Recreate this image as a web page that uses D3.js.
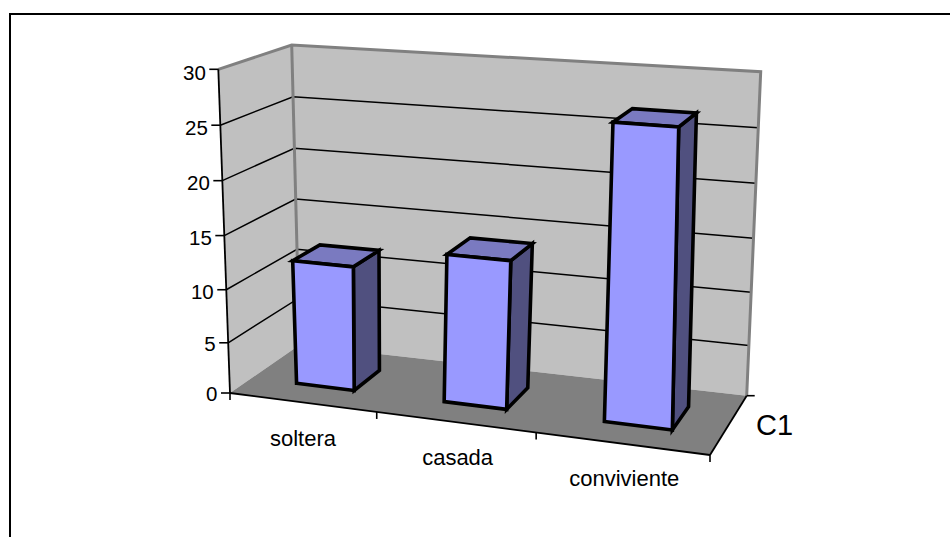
<!DOCTYPE html>
<html>
<head>
<meta charset="utf-8">
<script src="https://cdn.jsdelivr.net/npm/d3@7"></script>
<style>
html,body{margin:0;padding:0;background:#fff}
svg{display:block}
text{font-family:"Liberation Sans",Arial,sans-serif;fill:#000}
</style>
</head>
<body>
<svg id="chart" width="950" height="537"></svg>
<script>
const categories = ["soltera", "casada", "conviviente"];
const seriesName = "C1";
const values = [12, 14, 27];
const valueTicks = [0, 5, 10, 15, 20, 25, 30];

// Screen corners of the 3D box: floor and ceiling planes
const floorCorners = {fl:[230,393], fr:[710,455], br:[746.7,395.7], bl:[299.5,345]};
const ceilCorners  = {fl:[218.3,69.3], fr:[719,105], br:[760.7,71.7], bl:[291.7,45]};
const ceilBow = 28;

// Homography taking the unit square (u right, z into the page) onto a quad
function planeProjection(c){
  const [x0,y0]=c.fl,[x1,y1]=c.fr,[x2,y2]=c.br,[x3,y3]=c.bl;
  const dx1=x1-x2,dx2=x3-x2,sx=x0-x1+x2-x3;
  const dy1=y1-y2,dy2=y3-y2,sy=y0-y1+y2-y3;
  const den=dx1*dy2-dx2*dy1;
  const g=(sx*dy2-dx2*sy)/den,h=(dx1*sy-sx*dy1)/den;
  const a=x1-x0+g*x1,b=x3-x0+h*x3,d=y1-y0+g*y1,e=y3-y0+h*y3;
  return (u,z)=>{const w=g*u+h*z+1;return [(a*u+b*z+x0)/w,(d*u+e*z+y0)/w];};
}
// The ceiling only carries the top of each column, so a bilinear patch is enough;
// the bow pulls interior depths left while leaving the wall edges in place
function bilinearPatch(c){
  return (u,z)=>{
    const [x,y]=[0,1].map(k=>{
      const front=c.fl[k]+(c.fr[k]-c.fl[k])*u, back=c.bl[k]+(c.br[k]-c.bl[k])*u;
      return front+(back-front)*z;
    });
    return [x-ceilBow*z*(1-z),y];
  };
}
const floorPlane = planeProjection(floorCorners);
const ceilPlane  = bilinearPatch(ceilCorners);

const heightScale = d3.scalePow().exponent(1.04).domain([0,30]).range([0,1]);
const catScale = d3.scaleBand().domain(categories).range([0,1]).paddingInner(0.6).paddingOuter(0.3).align(0.53);
const depthScale = d3.scaleBand().domain([seriesName]).range([0,1]).paddingInner(0.6).paddingOuter(0.3);

// Project a (category position, value, depth) triple to the screen
function project(u,v,z){
  const a=floorPlane(u,z),b=ceilPlane(u,z),t=heightScale(v);
  return [a[0]+(b[0]-a[0])*t,a[1]+(b[1]-a[1])*t];
}
const path = pts => "M"+pts.map(p=>p[0].toFixed(2)+","+p[1].toFixed(2)).join("L")+"Z";
const openPath = pts => "M"+pts.map(p=>p[0].toFixed(2)+","+p[1].toFixed(2)).join("L");

const svg = d3.select("#chart");

// Outer chart frame (open at the bottom and right, where the canvas cuts it)
svg.append("path").attr("d","M10,537V14H950").attr("fill","none").attr("stroke","#000").attr("stroke-width",2);

// Walls and floor
const wallFill="#c0c0c0", floorFill="#808080", wallEdge="#808080";
svg.append("path").attr("d",path([project(0,0,0),project(0,30,0),project(0,30,1),project(0,0,1)])).attr("fill",wallFill);
svg.append("path").attr("d",path([project(0,0,1),project(0,30,1),project(1,30,1),project(1,0,1)])).attr("fill",wallFill);
svg.append("path").attr("d",path([project(0,0,0),project(1,0,0),project(1,0,1),project(0,0,1)])).attr("fill",floorFill);

// Gridlines across both walls
svg.append("g").selectAll("path").data(valueTicks.filter(v=>v>0&&v<30)).join("path")
  .attr("d",v=>openPath([project(0,v,0),project(0,v,1),project(1,v,1)]))
  .attr("fill","none").attr("stroke","#000").attr("stroke-width",1.5);

// Grey wall edges
svg.append("path").attr("d",openPath([project(0,30,0),project(0,30,1),project(1,30,1),project(1,0,1)]))
  .attr("fill","none").attr("stroke",wallEdge).attr("stroke-width",3).attr("stroke-linejoin","miter");
svg.append("path").attr("d",openPath([project(0,30,1),project(0,0,1)]))
  .attr("fill","none").attr("stroke",wallEdge).attr("stroke-width",3);

// Value axis
svg.append("path").attr("d",openPath([project(0,0,0),project(0,30,0)])).attr("fill","none").attr("stroke","#000").attr("stroke-width",1.8);
const yTicks = svg.append("g").selectAll("g").data(valueTicks).join("g")
  .attr("transform",v=>{const p=project(0,v,0);return `translate(${p[0]},${p[1]})`;});
yTicks.append("line").attr("x1",-9).attr("x2",0).attr("stroke","#000").attr("stroke-width",1.6);
yTicks.append("text").attr("x",-12.5).attr("y",v=>8+v/12).attr("text-anchor","end").attr("font-size",20.5).text(v=>v);

// Category axis along the front of the floor
svg.append("path").attr("d",openPath([project(0,0,0),project(1,0,0)])).attr("fill","none").attr("stroke","#000").attr("stroke-width",1.8);
svg.append("g").selectAll("line").data(d3.range(0,categories.length+1)).join("line")
  .each(function(i){
    const p=project(i/categories.length,0,0);
    d3.select(this).attr("x1",p[0]).attr("x2",p[0]).attr("y1",p[1]).attr("y2",p[1]+7);
  }).attr("stroke","#000").attr("stroke-width",1.6);

// Depth axis on the right of the floor
svg.append("path").attr("d",openPath([project(1,0,0),project(1,0,1)])).attr("fill","none").attr("stroke","#000").attr("stroke-width",1.8);
const dEnd=project(1,0,1);
svg.append("line").attr("x1",dEnd[0]).attr("x2",dEnd[0]+8).attr("y1",dEnd[1]).attr("y2",dEnd[1]).attr("stroke","#000").attr("stroke-width",1.6);

// Bars: side, top, then front
const zFront=depthScale(seriesName), zBack=zFront+depthScale.bandwidth();
const bars = svg.append("g").selectAll("g").data(categories.map((c,i)=>({c,v:values[i]}))).join("g")
  .attr("fill","none").attr("stroke","#000").attr("stroke-width",3.6).attr("stroke-linejoin","miter");
bars.append("path").attr("fill","#50507f").attr("d",d=>{
  const u=catScale(d.c)+catScale.bandwidth();
  return path([project(u,0,zFront),project(u,d.v,zFront),project(u,d.v,zBack),project(u,0,zBack)]);
});
bars.append("path").attr("fill","#7a7ac0").attr("d",d=>{
  const u0=catScale(d.c),u1=u0+catScale.bandwidth();
  return path([project(u0,d.v,zFront),project(u1,d.v,zFront),project(u1,d.v,zBack),project(u0,d.v,zBack)]);
});
bars.append("path").attr("fill","#9999ff").attr("d",d=>{
  const u0=catScale(d.c),u1=u0+catScale.bandwidth();
  return path([project(u0,0,zFront),project(u1,0,zFront),project(u1,d.v,zFront),project(u0,d.v,zFront)]);
});

// Category and series labels
const labelOffsets=[[-1.5,43],[0,43],[0,42]];
svg.append("g").selectAll("text").data(categories).join("text")
  .attr("text-anchor","middle").attr("font-size",22)
  .attr("x",(c,i)=>project(catScale(c)+catScale.bandwidth()/2,0,0)[0]+labelOffsets[i][0])
  .attr("y",(c,i)=>project(catScale(c)+catScale.bandwidth()/2,0,0)[1]+labelOffsets[i][1])
  .text(c=>c);
svg.append("text").attr("x",756).attr("y",435).attr("font-size",29).text(seriesName);
</script>
</body>
</html>
